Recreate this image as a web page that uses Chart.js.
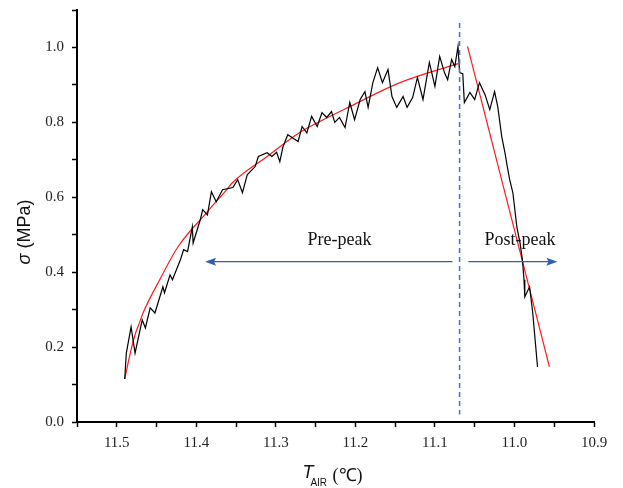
<!DOCTYPE html>
<html lang="en">
<head>
    <meta charset="UTF-8">
    <title>Stress vs air temperature</title>
    <script src="https://cdn.jsdelivr.net/npm/chart.js"></script>
    <style>
        body { margin: 0; background: #fff; }
        #wrap { width: 623px; height: 488px; }
    </style>
</head>
<body>
<div id="wrap"><canvas id="stressChart"></canvas></div>
<script>
    // measured curve (T_AIR in degC, sigma in MPa)
    const tempAir = [11.490, 11.488, 11.482, 11.477, 11.468, 11.464, 11.458, 11.452, 11.442, 11.440,
        11.433, 11.430, 11.420, 11.416, 11.411, 11.405, 11.404, 11.395, 11.392, 11.386,
        11.381, 11.375, 11.367, 11.354, 11.348, 11.342, 11.336, 11.326, 11.322, 11.311,
        11.305, 11.299, 11.295, 11.291, 11.285, 11.272, 11.267, 11.261, 11.255, 11.248,
        11.242, 11.236, 11.230, 11.226, 11.220, 11.213, 11.207, 11.201, 11.194, 11.188,
        11.184, 11.178, 11.172, 11.166, 11.159, 11.154, 11.148, 11.140, 11.135, 11.128,
        11.122, 11.115, 11.107, 11.100, 11.094, 11.088, 11.084, 11.079, 11.075, 11.071,
        11.069, 11.065, 11.063, 11.056, 11.050, 11.044, 11.037, 11.031, 11.025, 11.021,
        11.016, 11.012, 11.009, 11.006, 11.002, 10.997, 10.993, 10.990, 10.988, 10.987,
        10.981, 10.977, 10.971];
    const stress = [0.115, 0.184, 0.254, 0.184, 0.273, 0.251, 0.305, 0.291, 0.361, 0.345,
        0.393, 0.380, 0.433, 0.460, 0.455, 0.521, 0.478, 0.540, 0.567, 0.553,
        0.615, 0.588, 0.620, 0.626, 0.647, 0.612, 0.660, 0.682, 0.709, 0.719,
        0.709, 0.720, 0.695, 0.735, 0.767, 0.749, 0.789, 0.772, 0.816, 0.789,
        0.826, 0.813, 0.829, 0.800, 0.813, 0.786, 0.853, 0.807, 0.861, 0.882,
        0.840, 0.906, 0.946, 0.906, 0.941, 0.869, 0.840, 0.869, 0.840, 0.866,
        0.920, 0.861, 0.960, 0.896, 0.976, 0.933, 0.914, 0.968, 0.949, 1.003,
        0.933, 0.930, 0.853, 0.880, 0.861, 0.906, 0.874, 0.834, 0.882, 0.842,
        0.762, 0.719, 0.682, 0.647, 0.612, 0.521, 0.478, 0.433, 0.380, 0.334,
        0.361, 0.291, 0.147];

    // fitted curves
    const preFitT = [11.490, 11.482, 11.477, 11.472, 11.467, 11.446, 11.423, 11.387, 11.362, 11.354, 11.311, 11.270, 11.245, 11.207, 11.144, 11.071];
    const preFitS = [0.115, 0.193, 0.233, 0.262, 0.291, 0.380, 0.468, 0.559, 0.620, 0.640, 0.709, 0.773, 0.802, 0.842, 0.906, 0.957];
    const postFitT = [11.059, 10.956];
    const postFitS = [1.003, 0.147];

    // annotations
    const peakT = 11.069;
    const dashRange = [0.02, 1.065];
    const arrowY = 0.428;
    const preArrow = [11.078, 11.389];
    const postArrow = [11.058, 10.946];
    const preLabel = { t: 11.22, s: 0.473, text: 'Pre-peak' };
    const postLabel = { t: 10.993, s: 0.473, text: 'Post-peak' };

    const toPts = (xs, ys) => xs.map((v, i) => ({ x: v, y: ys[i] }));

    function arrow(ctx, x1, x2, y) {
        const dir = x2 > x1 ? 1 : -1;
        ctx.beginPath();
        ctx.moveTo(x1, y);
        ctx.lineTo(x2 - dir * 8, y);
        ctx.stroke();
        ctx.beginPath();
        ctx.moveTo(x2, y);
        ctx.lineTo(x2 - dir * 11, y - 4);
        ctx.lineTo(x2 - dir * 9, y);
        ctx.lineTo(x2 - dir * 11, y + 4);
        ctx.closePath();
        ctx.fill();
    }

    const annotPlugin = {
        id: 'annot',
        afterDatasetsDraw(chart) {
            const { ctx, scales: { x, y } } = chart;
            ctx.save();
            // peak line
            ctx.strokeStyle = '#4472c4';
            ctx.lineWidth = 1.5;
            ctx.setLineDash([5, 4]);
            ctx.beginPath();
            ctx.moveTo(x.getPixelForValue(peakT), y.getPixelForValue(dashRange[1]));
            ctx.lineTo(x.getPixelForValue(peakT), y.getPixelForValue(dashRange[0]));
            ctx.stroke();
            ctx.setLineDash([]);

            // arrows
            ctx.strokeStyle = '#2f5fb3';
            ctx.fillStyle = '#2f5fb3';
            ctx.lineWidth = 1.3;
            const ay = y.getPixelForValue(arrowY);
            arrow(ctx, x.getPixelForValue(preArrow[0]), x.getPixelForValue(preArrow[1]), ay);
            arrow(ctx, x.getPixelForValue(postArrow[0]), x.getPixelForValue(postArrow[1]), ay);

            // region labels
            ctx.fillStyle = '#111';
            ctx.font = '18px "Liberation Serif"';
            ctx.textAlign = 'center';
            ctx.textBaseline = 'alphabetic';
            [preLabel, postLabel].forEach(l => {
                ctx.fillText(l.text, x.getPixelForValue(l.t), y.getPixelForValue(l.s));
            });
            ctx.restore();
        },
        afterDraw(chart) {
            const { ctx, chartArea } = chart;
            ctx.save();
            ctx.fillStyle = '#111';
            ctx.textBaseline = 'alphabetic';
            ctx.textAlign = 'left';

            // x title: T_AIR (℃)
            const fT = 'italic 18px "Liberation Sans"';
            const fSub = '10px "Liberation Sans"';
            const fRest = '18px "Liberation Serif"';
            ctx.font = fT; const wT = ctx.measureText('T').width;
            ctx.font = fSub; const wSub = ctx.measureText('AIR').width;
            ctx.font = fRest; const wRest = ctx.measureText(' (℃)').width;
            let cx = (chartArea.left + chartArea.right) / 2 - (wT + wSub + wRest) / 2 - 2;
            const by = 478;
            ctx.font = fT; ctx.fillText('T', cx, by); cx += wT;
            ctx.font = fSub; ctx.fillText('AIR', cx - 3, by + 8); cx += wSub - 2;
            ctx.font = fRest; ctx.fillText(' (℃)', cx, by + 3);

            // y title: σ (MPa)
            ctx.translate(30, 232);
            ctx.rotate(-Math.PI / 2);
            const fSig = 'italic 18px "Liberation Sans"';
            const fUnit = '18px "Liberation Sans"';
            ctx.font = fSig; const wSig = ctx.measureText('σ').width;
            ctx.font = fUnit; const wUnit = ctx.measureText(' (MPa)').width;
            let sx = -(wSig + wUnit) / 2;
            ctx.font = fSig; ctx.fillText('σ', sx, 0);
            ctx.font = fUnit; ctx.fillText(' (MPa)', sx + wSig, 0);
            ctx.restore();
        }
    };

    const tickFont = { family: 'Liberation Serif', size: 15 };

    new Chart(document.getElementById('stressChart'), {
        type: 'scatter',
        data: {
            datasets: [
                {
                    label: 'Measured',
                    data: toPts(tempAir, stress),
                    showLine: true,
                    borderColor: '#000',
                    borderWidth: 1.2,
                    pointRadius: 0,
                    tension: 0
                },
                {
                    label: 'Pre-peak fit',
                    data: toPts(preFitT, preFitS),
                    showLine: true,
                    borderColor: '#ff1a1a',
                    borderWidth: 1.2,
                    pointRadius: 0,
                    cubicInterpolationMode: 'monotone'
                },
                {
                    label: 'Post-peak fit',
                    data: toPts(postFitT, postFitS),
                    showLine: true,
                    borderColor: '#ff1a1a',
                    borderWidth: 1.2,
                    pointRadius: 0
                }
            ]
        },
        options: {
            responsive: true,
            maintainAspectRatio: false,
            animation: false,
            layout: { padding: { top: 10, right: 29, left: 0, bottom: 0 } },
            plugins: { legend: { display: false }, tooltip: { enabled: false } },
            scales: {
                x: {
                    type: 'linear',
                    reverse: true,
                    min: 10.9,
                    max: 11.55,
                    afterFit: s => { s.height = 66; s.paddingLeft = 0; s.paddingRight = 0; },
                    border: { display: true, color: '#000', width: 2 },
                    grid: { drawOnChartArea: false, tickLength: 5, tickColor: '#000', tickWidth: 1.5 },
                    ticks: {
                        stepSize: 0.05,
                        autoSkip: false,
                        maxRotation: 0,
                        padding: 7,
                        color: '#222',
                        font: tickFont,
                        callback: v => {
                            const k = Math.round(v * 100);
                            return k % 10 === 0 ? (k / 100).toFixed(1) : '';
                        }
                    }
                },
                y: {
                    min: 0,
                    max: 1.1,
                    afterFit: s => { s.width = 77; s.paddingTop = 0; s.paddingBottom = 0; },
                    border: { display: true, color: '#000', width: 2 },
                    grid: { drawOnChartArea: false, tickLength: 5, tickColor: '#000', tickWidth: 1.5 },
                    ticks: {
                        stepSize: 0.1,
                        autoSkip: false,
                        padding: 8,
                        color: '#222',
                        font: tickFont,
                        callback: v => {
                            const k = Math.round(v * 10);
                            return k % 2 === 0 ? (k / 10).toFixed(1) : '';
                        }
                    }
                }
            }
        },
        plugins: [annotPlugin]
    });
</script>
</body>
</html>
